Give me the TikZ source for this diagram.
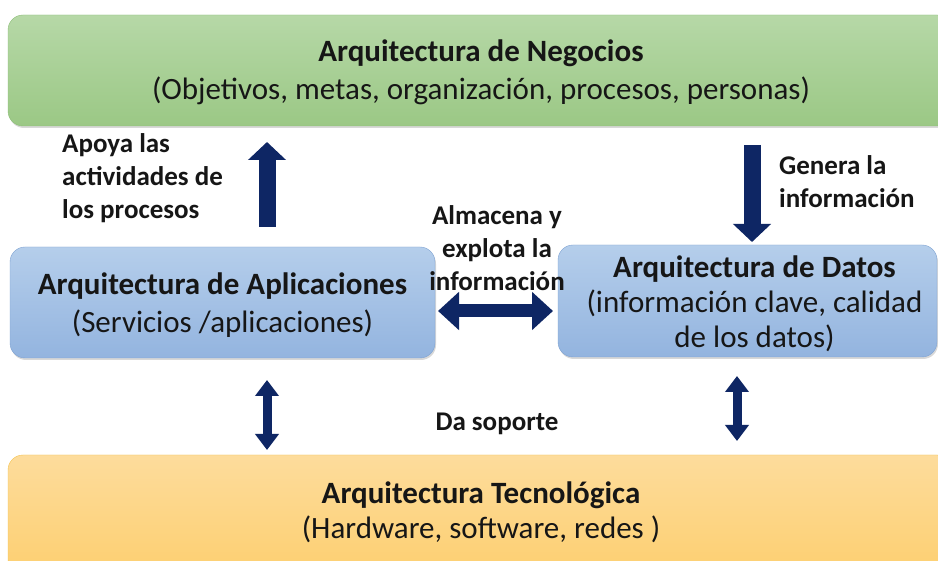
\documentclass[tikz,border=0pt]{standalone}
\usepackage{fontspec}
\setmainfont{Carlito}
\usetikzlibrary{arrows.meta,shadows}
\definecolor{navy}{RGB}{14,38,100}
\definecolor{gtop}{HTML}{B6D8A7}
\definecolor{gbot}{HTML}{9BC885}
\definecolor{gline}{HTML}{8DBE78}
\definecolor{btop}{HTML}{B5CEEB}
\definecolor{bbot}{HTML}{93B4DF}
\definecolor{bline}{HTML}{7EA2D2}
\definecolor{otop}{HTML}{FDDC9C}
\definecolor{obot}{HTML}{FDCF70}
\definecolor{oline}{HTML}{F4C350}
\definecolor{txt}{HTML}{161616}
\begin{document}
\begin{tikzpicture}[x=1pt,y=-1pt,
  layer/.style={rounded corners=15pt, inner sep=0pt, align=center, text=txt,
    drop shadow={shadow xshift=1pt, shadow yshift=-2pt, opacity=0.25, fill=black!60}},
  greenbox/.style={layer, draw=gline, top color=gtop, bottom color=gbot},
  bluebox/.style={layer, draw=bline, top color=btop, bottom color=bbot},
  orangebox/.style={layer, draw=oline, top color=otop, bottom color=obot},
  boxtext/.style={inner sep=0pt, align=center, text=txt},
  lbl/.style={inner sep=0pt, text=txt, font=\fontsize{27}{33}\selectfont\bfseries},
  bigarrow/.style={draw=navy, line width=17pt,
    -{Triangle[length=18pt 0 0, width=37pt 0 0]}},
  harrow/.style={draw=navy, line width=13pt,
    {Triangle[length=21pt 0 0, width=37pt 0 0]}-{Triangle[length=21pt 0 0, width=37pt 0 0]}},
  varrow/.style={draw=navy, line width=9pt,
    {Triangle[length=16pt 0 0, width=23pt 0 0]}-{Triangle[length=16pt 0 0, width=23pt 0 0]}}
]
\useasboundingbox (0,0) rectangle (938,561);
\clip (0,0) rectangle (938,561);
\fill[white] (0,0) rectangle (938,561);

% boxes
\node[greenbox, minimum width=944pt, minimum height=111pt] (biz) at (480,70.5) {};
\node[boxtext, font=\fontsize{31}{38}\selectfont] (biztxt) at (481,72)
  {{\bfseries Arquitectura de Negocios}\\(Objetivos, metas, organización, procesos, personas)};
\node[bluebox, minimum width=425pt, minimum height=111pt] (app) at (222.5,302.5) {};
\node[boxtext, font=\fontsize{31}{38}\selectfont] (apptxt) at (222.5,305)
  {{\bfseries Arquitectura de Aplicaciones}\\(Servicios /aplicaciones)};
\node[bluebox, minimum width=379pt, minimum height=112pt] (dat) at (747.5,301) {};
\node[boxtext, font=\fontsize{31}{35}\selectfont] (dattxt) at (754.5,304)
  {{\bfseries Arquitectura de Datos}\\(información clave, calidad\\de los datos)};
\node[orangebox, minimum width=944pt, minimum height=120pt] (tec) at (480,515) {};
\node[boxtext, font=\fontsize{31}{35}\selectfont] (tectxt) at (481,512)
  {{\bfseries Arquitectura Tecnológica}\\(Hardware, software, redes )};

% labels
\node[lbl, anchor=west, align=left] (apoya) at (62,178)
  {Apoya las\\actividades de\\los procesos};
\node[lbl, anchor=west, align=left] (genera) at (779,182)
  {Genera la\\información};
\node[lbl, align=center] (almacena) at (497,248)
  {Almacena y\\explota la\\información};
\node[lbl] (soporte) at (497,424) {Da soporte};

% arrow end points
\coordinate (upS) at (267,227);
\coordinate (upE) at (267,142);
\coordinate (dnS) at (752,145);
\coordinate (dnE) at (752,242);
\coordinate (hS) at (438,311);
\coordinate (hE) at (553,311);
\coordinate (v1S) at (267,380);
\coordinate (v1E) at (267,450);
\coordinate (v2S) at (737,376);
\coordinate (v2E) at (737,441);

\draw[bigarrow] (upS) -- (upE);
\draw[bigarrow] (dnS) -- (dnE);
\draw[harrow] (hS) -- (hE);
\draw[varrow] (v1S) -- (v1E);
\draw[varrow] (v2S) -- (v2E);
\end{tikzpicture}
\end{document}
